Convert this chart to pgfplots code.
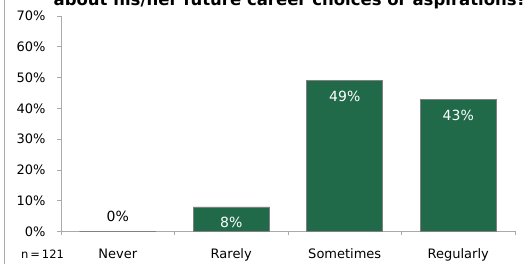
\documentclass[border=0pt]{standalone}
\usepackage{pgfplots}
\pgfplotsset{compat=1.18}
\usepackage{fontspec}
\setmainfont{DejaVu Sans}
\definecolor{bargreen}{RGB}{32,106,74}
\definecolor{axisgray}{RGB}{170,170,170}
\definecolor{bordergray}{RGB}{128,128,128}
\begin{document}
\begin{tikzpicture}[x=1pt,y=1pt]
\begin{scope}
\clip (0,0) rectangle (525,264);
\fill[white] (0,0) rectangle (525,264);
\draw[color=axisgray, line width=1pt] (4.5,0) -- (4.5,264);
\node[anchor=base, inner sep=0pt, font=\fontsize{16.5}{19}\selectfont\bfseries] at (290,258) {about his/her future career choices or aspirations?};
\node[anchor=base west, inner sep=0pt, font=\fontsize{11.5}{13}\selectfont] at (21,5) {n\,=\,121};
\begin{axis}[
  at={(61pt,32.5pt)}, anchor=south west,
  scale only axis, width=454pt, height=215.5pt,
  xmin=-0.5, xmax=3.5, ymin=0, ymax=70,
  axis lines=left, axis line style={draw=axisgray, line width=0.8pt, -},
  xtick={0,1,2,3}, xticklabels={Never,Rarely,Sometimes,Regularly},
  minor xtick={-0.5,0.5,1.5,2.5,3.5},
  major x tick style={draw=none},
  ytick={0,10,...,70},
  yticklabel={\pgfmathprintnumber{\tick}\%},
  /pgf/number format/assume math mode=true,
  tick align=outside, major tick length=4pt, minor tick length=4pt,
  every tick/.style={axisgray, line width=0.8pt},
  ticklabel style={font=\fontsize{13}{15}\selectfont, text=black},
  xticklabel style={anchor=base, yshift=-23pt},
  yticklabel style={anchor=east, xshift=-8pt},
  clip=false,
]
\addplot[ybar, bar shift=0pt, bar width=0.67, fill=bargreen, draw=bordergray, line width=0.6pt]
  coordinates {(0,0) (1,8) (2,49) (3,43)};
\addplot[draw=none, no marks, nodes near coords={\pgfmathprintnumber{\pgfplotspointmeta}\%},
  every node near coord/.style={text=white, font=\fontsize{14}{16}\selectfont, anchor=base, yshift=-21pt, inner sep=0pt}]
  coordinates {(1,8) (2,49) (3,43)};
\addplot[draw=none, no marks, nodes near coords={\pgfmathprintnumber{\pgfplotspointmeta}\%},
  every node near coord/.style={text=black, font=\fontsize{14}{16}\selectfont, anchor=base, yshift=10pt, inner sep=0pt}]
  coordinates {(0,0)};
\end{axis}
\end{scope}
\pgfresetboundingbox
\path[use as bounding box] (0,0) rectangle (525,264);
\end{tikzpicture}
\end{document}
